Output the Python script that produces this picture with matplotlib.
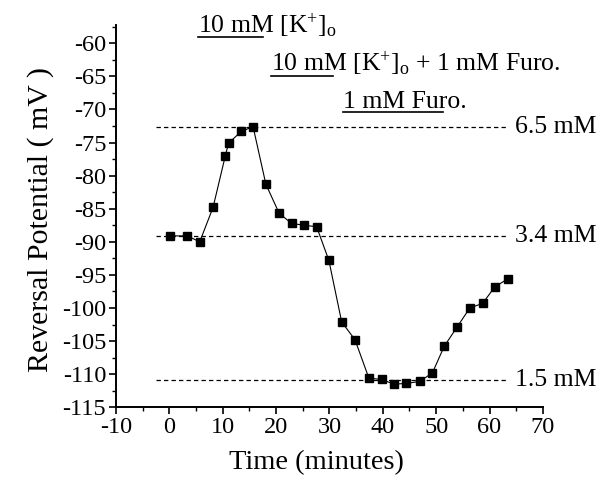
import matplotlib
matplotlib.use("Agg")
import matplotlib.pyplot as plt
from matplotlib.ticker import MultipleLocator

plt.rcParams['font.family'] = ['Liberation Serif', 'DejaVu Serif']
plt.rcParams['mathtext.fontset'] = 'custom'
plt.rcParams['mathtext.rm'] = 'Liberation Serif'
plt.rcParams['mathtext.it'] = 'Liberation Serif:italic'
plt.rcParams['axes.unicode_minus'] = False

# data
time_min = [0.1, 3.4, 5.7, 8.2, 10.5, 11.1, 13.5, 15.7, 18.1, 20.6, 22.9, 25.2,
            27.6, 29.9, 32.3, 34.8, 37.4, 39.8, 42.1, 44.4, 46.9, 49.3, 51.5,
            53.9, 56.3, 58.7, 61.0, 63.4]
reversal_mv = [-89.1, -89.1, -90.0, -84.8, -77.0, -75.1, -73.3, -72.6, -81.3,
               -85.7, -87.2, -87.5, -87.7, -92.8, -102.1, -104.8, -110.6,
               -110.8, -111.5, -111.4, -111.1, -109.8, -105.8, -102.9, -100.0,
               -99.3, -96.8, -95.6]
ref_levels = [-72.6, -89.1, -110.9]
ref_labels = ['6.5 mM', '3.4 mM', '1.5 mM']
ref_x = [-2.5, 63.0]

ann_texts = [r'10 mM [K$^{+}$]$_{\rm o}$',
             r'10 mM [K$^{+}$]$_{\rm o}$ + 1 mM Furo.',
             '1 mM Furo.']
ann_bar_x = [(5.4, 17.5), (19.0, 30.6), (32.5, 51.2)]
ann_bar_y = [-59.1, -64.9, -70.4]

xticks = list(range(-10, 71, 10))
yticks = list(range(-115, -59, 5))

fig = plt.figure(figsize=(6.10, 4.91), dpi=100)
ax = fig.add_axes([0.190, 0.1705, 0.700, 0.779])

for lvl, lab in zip(ref_levels, ref_labels):
    ax.plot(ref_x, [lvl, lvl], color='black', lw=0.9, ls=(0, (3.5, 2.5)))
    ax.text(ref_x[1] + 1.7, lvl, lab, fontsize=18.5, va='center', ha='left',
            clip_on=False)

ax.plot(time_min, reversal_mv, color='black', lw=0.8, marker='s',
        markersize=6, markerfacecolor='black', markeredgecolor='black')

for txt, (x0, x1), yb in zip(ann_texts, ann_bar_x, ann_bar_y):
    ax.text(x0, yb + 0.6, txt, fontsize=18.5, ha='left', va='baseline',
            clip_on=False)
    ax.plot([x0, x1], [yb, yb], color='black', lw=1.2, clip_on=False)

ax.set_xlim(-10, 70)
ax.set_ylim(-115, -57.2)
ax.set_xticks(xticks)
ax.set_yticks(yticks)
ax.xaxis.set_minor_locator(MultipleLocator(5))
ax.yaxis.set_minor_locator(MultipleLocator(2.5))
ax.tick_params(axis='both', which='major', direction='out', length=5,
               width=1.2, labelsize=17.5, pad=2)
ax.tick_params(axis='both', which='minor', direction='out', length=3,
               width=1.0)
ax.spines['top'].set_visible(False)
ax.spines['right'].set_visible(False)
ax.spines['left'].set_linewidth(1.4)
ax.spines['bottom'].set_linewidth(1.4)

ax.set_xlabel('Time (minutes)', fontsize=20.5)
ax.set_ylabel('Reversal Potential ( mV )', fontsize=21.5)
ax.xaxis.set_label_coords(0.47, -0.113)
ax.yaxis.set_label_coords(-0.145, 0.49)

fig.savefig('out.png', dpi=100)
